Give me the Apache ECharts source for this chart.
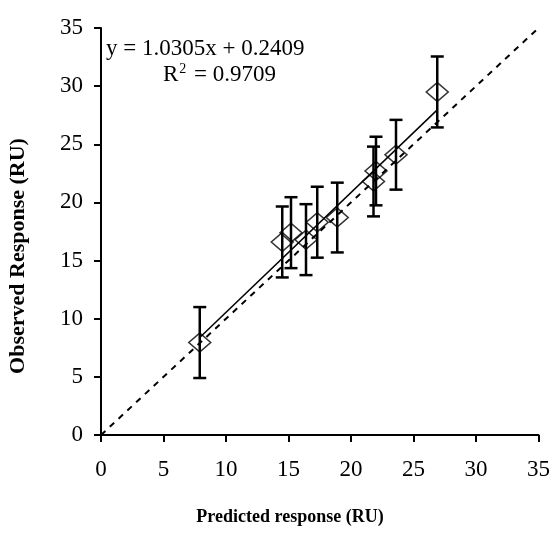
<!DOCTYPE html>
<html>
<head>
<meta charset="utf-8">
<script src="https://cdn.jsdelivr.net/npm/echarts@6/dist/echarts.min.js"></script>
<style>
  html, body { margin: 0; padding: 0; background: #fff; }
  #chart { width: 553px; height: 548px; }
</style>
</head>
<body>
<div id="chart"></div>
<script>
// Predicted vs observed response (RU), with error bars
const predicted = [7.9, 14.5, 15.2, 16.4, 17.3, 18.9, 21.8, 22.0, 23.6, 26.9];
const observed  = [7.95, 16.6, 17.4, 16.8, 18.3, 18.7, 21.8, 22.7, 24.1, 29.5];
const errors    = [3.05, 3.05, 3.05, 3.05, 3.05, 3.0, 3.0, 2.95, 3.0, 3.05];
const axisTicks = [0, 5, 10, 15, 20, 25, 30, 35];

// Linear fit reported on the chart
const slope = 1.0305;
const intercept = 0.2409;
const rSquared = 0.9709;

const xMin = Math.min(...predicted);
const xMax = Math.max(...predicted);
const fitLine = [[xMin, slope * xMin + intercept], [xMax, slope * xMax + intercept]];
const lo = axisTicks[0], hi = axisTicks[axisTicks.length - 1];
const identityLine = [[lo, lo], [hi, hi]];

const points = predicted.map((x, i) => [x, observed[i]]);
const errData = predicted.map((x, i) => [x, observed[i] - errors[i], observed[i] + errors[i]]);

const tickFont = { fontFamily: 'Liberation Serif', fontSize: 23, color: '#000' };

const chart = echarts.init(document.getElementById('chart'), null, { renderer: 'canvas' });
chart.setOption({
  animation: false,
  backgroundColor: '#fff',
  grid: { left: 101, right: 13, top: 28, bottom: 113 },
  xAxis: {
    type: 'value', min: lo, max: hi, interval: 5,
    axisLine: { show: true, onZero: false, lineStyle: { color: '#000', width: 2 } },
    axisTick: { show: true, length: 7, lineStyle: { color: '#000', width: 2 } },
    axisLabel: Object.assign({ margin: 23 }, tickFont),
    splitLine: { show: false }
  },
  yAxis: {
    type: 'value', min: lo, max: hi, interval: 5,
    axisLine: { show: true, onZero: false, lineStyle: { color: '#000', width: 2 } },
    axisTick: { show: true, length: 7, lineStyle: { color: '#000', width: 2 } },
    axisLabel: Object.assign({ margin: 18 }, tickFont),
    splitLine: { show: false }
  },
  graphic: [
    {
      type: 'text', left: 106, top: 37,
      style: { text: 'y = 1.0305x + ' + intercept.toFixed(4), font: '23px "Liberation Serif"', fill: '#000' }
    },
    {
      type: 'text', left: 163, top: 62,
      style: {
        text: '{b|R}{s|2}{b| = ' + rSquared.toFixed(4) + '}',
        rich: {
          b: { fontFamily: 'Liberation Serif', fontSize: 23, color: '#000' },
          s: { fontFamily: 'Liberation Serif', fontSize: 14, color: '#000', verticalAlign: 'top', padding: [0, 2, 12, 1] }
        }
      }
    },
    {
      type: 'text', x: 290, y: 517,
      style: {
        text: 'Predicted response (RU)', font: 'bold 18px "Liberation Serif"', fill: '#000',
        align: 'center', verticalAlign: 'middle'
      }
    },
    {
      type: 'text', x: 18, y: 256, rotation: Math.PI / 2,
      style: {
        text: 'Observed Response (RU)', font: 'bold 22px "Liberation Serif"', fill: '#000',
        align: 'center', verticalAlign: 'middle'
      }
    }
  ],
  series: [
    {
      type: 'line', data: identityLine, symbol: 'none', z: 2,
      lineStyle: { color: '#000', width: 2, type: [6, 6] }
    },
    {
      type: 'line', data: fitLine, symbol: 'none', z: 3,
      lineStyle: { color: '#000', width: 1.5 }
    },
    {
      type: 'custom', z: 4,
      data: errData,
      renderItem: function (params, api) {
        const x = api.value(0);
        const a = api.coord([x, api.value(1)]);
        const b = api.coord([x, api.value(2)]);
        const cap = 6.5;
        const style = { stroke: '#000', lineWidth: 2.5 };
        return {
          type: 'group',
          children: [
            { type: 'line', shape: { x1: a[0], y1: a[1], x2: b[0], y2: b[1] }, style: style },
            { type: 'line', shape: { x1: a[0] - cap, y1: a[1], x2: a[0] + cap, y2: a[1] }, style: style },
            { type: 'line', shape: { x1: b[0] - cap, y1: b[1], x2: b[0] + cap, y2: b[1] }, style: style }
          ]
        };
      }
    },
    {
      type: 'scatter', data: points, z: 5,
      symbol: 'diamond', symbolSize: [22, 19],
      itemStyle: { color: 'rgba(255,255,255,0)', borderColor: '#000', borderWidth: 1.5 }
    }
  ]
});
</script>
</body>
</html>
